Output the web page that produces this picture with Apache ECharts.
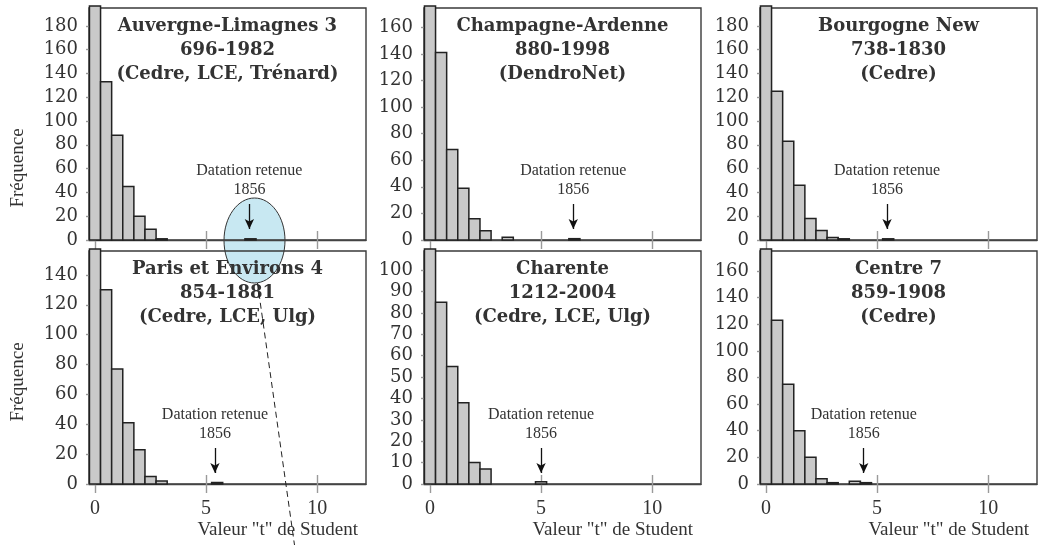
<!DOCTYPE html>
<html>
<head>
<meta charset="utf-8">
<script src="https://cdn.jsdelivr.net/npm/echarts@6/dist/echarts.min.js"></script>
<style>
  html, body { margin: 0; padding: 0; background: #fff; }
  #main { width: 1041px; height: 545px; }
</style>
</head>
<body>
<div id="main"></div>
<script>
// bin centres (t de Student), bins 0.5 wide
var binCenters = [0, 0.5, 1, 1.5, 2, 2.5, 3, 3.5, 4, 4.5, 5, 5.5, 6, 6.5, 7];

var regions = ['Auvergne-Limagnes 3', 'Champagne-Ardenne', 'Bourgogne New',
               'Paris et Environs 4', 'Charente', 'Centre 7'];
var periods = ['696-1982', '880-1998', '738-1830', '854-1881', '1212-2004', '859-1908'];
var sources = ['(Cedre, LCE, Trénard)', '(DendroNet)', '(Cedre)',
               '(Cedre, LCE, Ulg)', '(Cedre, LCE, Ulg)', '(Cedre)'];

// fréquences par classe (la première classe dépasse le cadre)
var auvergne  = [260, 133, 88, 45, 20, 9, 1, 0, 0, 0, 0, 0, 0, 0, 1];
var champagne = [230, 141, 68, 39, 16, 7, 0, 2, 0, 0, 0, 0, 0, 1, 0];
var bourgogne = [240, 125, 83, 46, 18, 8, 2, 1, 0, 0, 0, 1, 0, 0, 0];
var paris     = [200, 130, 77, 41, 23, 5, 2, 0, 0, 0, 0, 1, 0, 0, 0];
var charente  = [140, 85, 55, 38, 10, 7, 0, 0, 0, 0, 1, 0, 0, 0, 0];
var centre    = [210, 123, 75, 40, 20, 4, 1, 0, 2, 1, 0, 0, 0, 0, 0];
var counts = [auvergne, champagne, bourgogne, paris, charente, centre];

// valeur t de la datation retenue (1856)
var retainedT = [6.95, 6.45, 5.45, 5.4, 5, 4.4];

var yTicks = [
  [0, 20, 40, 60, 80, 100, 120, 140, 160, 180],
  [0, 20, 40, 60, 80, 100, 120, 140, 160],
  [0, 20, 40, 60, 80, 100, 120, 140, 160, 180],
  [0, 20, 40, 60, 80, 100, 120, 140],
  [0, 10, 20, 30, 40, 50, 60, 70, 80, 90, 100],
  [0, 20, 40, 60, 80, 100, 120, 140, 160]
];
var xTicks = [0, 5, 10];

// layout
var FONT = 'Liberation Serif';
var WIDE = 'DejaVu Serif';
var colLeft = [89, 424, 760];
var plotW = 277;
var rowTop = [8, 251];
var plotH = [232, 233];
var yMax = [195, 174.5, 195, 156, 109, 175];
var xMin = -0.27, xMax = 12.2;

var grids = [], xAxes = [], yAxes = [], series = [], titles = [], graphics = [];

counts.forEach(function (c, i) {
  var col = i % 3, row = Math.floor(i / 3);
  var left = colLeft[col], top = rowTop[row], h = plotH[row];
  grids.push({ left: left, top: top, width: plotW, height: h, show: true,
               borderColor: '#3a3a3a', borderWidth: 1.4, backgroundColor: 'transparent' });

  // main x axis (ticks outside, labels on the bottom row only)
  xAxes.push({
    type: 'value', gridIndex: i, min: xMin, max: xMax,
    splitLine: { show: false },
    axisLine: { show: true, lineStyle: { color: '#444', width: 1.4 } },
    axisTick: { show: true, inside: false, length: 9, customValues: xTicks,
                lineStyle: { color: '#9a9a9a', width: 1.4 } },
    axisLabel: { show: row === 1, customValues: xTicks, margin: 15,
                 fontFamily: FONT, fontSize: 20, color: '#333' }
  });
  // second x axis for the inner half of the ticks
  xAxes.push({
    type: 'value', gridIndex: i, min: xMin, max: xMax, position: 'bottom',
    splitLine: { show: false }, axisLine: { show: false }, axisLabel: { show: false },
    axisTick: { show: true, inside: true, length: 9, customValues: xTicks,
                lineStyle: { color: '#9a9a9a', width: 1.4 } }
  });
  yAxes.push({
    type: 'value', gridIndex: i, min: 0, max: yMax[i],
    splitLine: { show: false },
    axisLine: { show: true, lineStyle: { color: '#3a3a3a', width: 1.4 } },
    axisTick: { show: true, length: 9, customValues: yTicks[i],
                lineStyle: { color: '#9a9a9a', width: 1.4 } },
    axisLabel: { customValues: yTicks[i], margin: 11,
                 fontFamily: WIDE, fontSize: 18, color: '#333' }
  });

  series.push({
    type: 'custom', xAxisIndex: i * 2, yAxisIndex: i,
    data: binCenters.map(function (x, k) { return [x, c[k]]; }),
    renderItem: function (params, api) {
      var v = api.value(1);
      if (!v) return null;
      var x = api.value(0);
      var p0 = api.coord([x - 0.25, v]);
      var p1 = api.coord([x + 0.25, 0]);
      var cs = params.coordSys;
      var shape = echarts.graphic.clipRectByRect(
        { x: p0[0], y: p0[1], width: p1[0] - p0[0], height: p1[1] - p0[1] },
        { x: cs.x, y: cs.y - 2, width: cs.width, height: cs.height + 2 });
      return shape && { type: 'rect', shape: shape,
        style: { fill: '#c9c9c9', stroke: '#222', lineWidth: 1.5 } };
    },
    z: 3
  });

  // arrow + label "Datation retenue 1856"
  var perPx = yMax[i] / h;
  series.push({
    type: 'line', xAxisIndex: i * 2, yAxisIndex: i, data: [], silent: true,
    markLine: {
      silent: true, symbol: ['none', 'arrow'], symbolSize: [7, 10], animation: false,
      label: { show: false },
      lineStyle: { color: '#111', width: 1.3, type: 'solid' },
      data: [[{ coord: [retainedT[i], 36 * perPx] }, { coord: [retainedT[i], 11 * perPx] }]]
    },
    markPoint: {
      silent: true, symbol: 'circle', symbolSize: 1, animation: false,
      itemStyle: { color: 'transparent' },
      label: { show: true, position: 'inside', formatter: 'Datation retenue\n1856',
               fontFamily: FONT, fontSize: 16, lineHeight: 19, color: '#333' },
      data: [{ coord: [retainedT[i], 60 * perPx] }]
    }
  });

  titles.push({
    text: regions[i] + '\n' + periods[i] + '\n' + sources[i],
    left: left + plotW / 2, top: top + 6, textAlign: 'center', padding: 0,
    textStyle: { fontFamily: WIDE, fontWeight: 'bold', fontSize: 18, lineHeight: 24, color: '#333' }
  });

  if (row === 1) {
    graphics.push({ type: 'text', right: 1041 - (left + plotW - 8), top: 521,
      style: { text: 'Valeur "t" de Student', font: '19px "' + FONT + '"', fill: '#333' } });
  }
});

// Fréquence labels
[168, 382].forEach(function (cy) {
  graphics.push({ type: 'text', x: 18, y: cy, rotation: Math.PI / 2,
    style: { text: 'Fréquence', font: '19px "' + FONT + '"', fill: '#333',
             align: 'center', verticalAlign: 'middle' } });
});
// highlighted retained dating in the first panel
graphics.push({ type: 'ellipse', shape: { cx: 254.5, cy: 240.5, rx: 30.5, ry: 42.5 }, z: -1,
  style: { fill: '#c8e8f2', stroke: '#333', lineWidth: 1 } });
graphics.push({ type: 'line', shape: { x1: 257.5, y1: 283, x2: 294.5, y2: 545 }, z: 10,
  style: { stroke: '#222', lineWidth: 1, lineDash: [6, 4] } });

var myChart = echarts.init(document.getElementById('main'));
myChart.setOption({
  animation: false,
  backgroundColor: '#fff',
  title: titles,
  grid: grids,
  xAxis: xAxes,
  yAxis: yAxes,
  series: series,
  graphic: graphics
});
</script>
</body>
</html>
